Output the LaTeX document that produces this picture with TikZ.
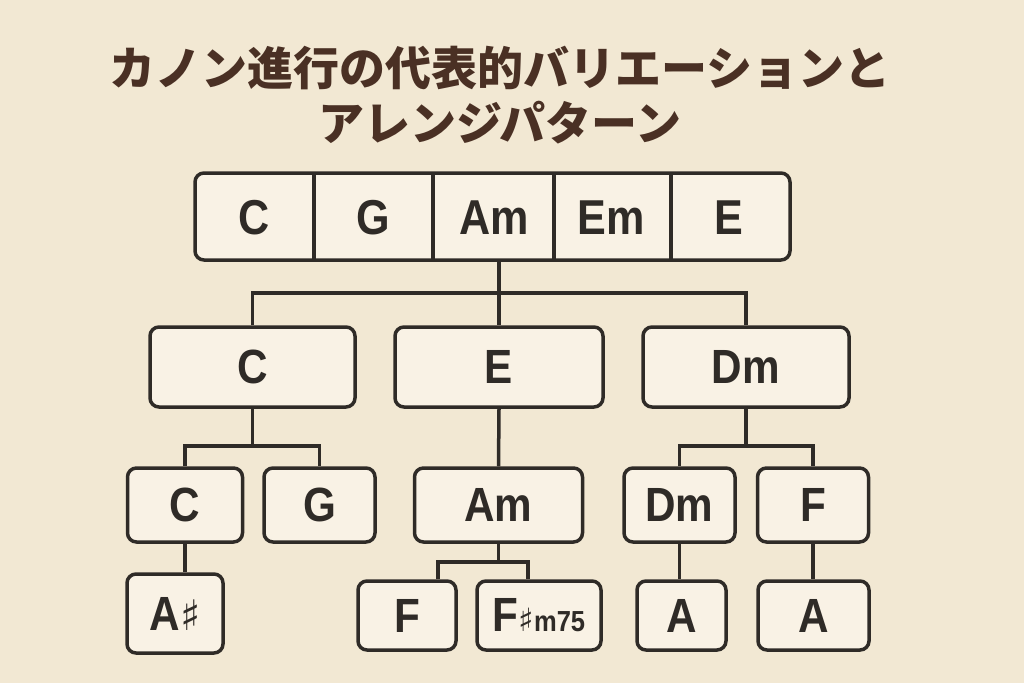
\documentclass[tikz,border=0pt]{standalone}
\usepackage{fontspec}
\usepackage{tikz}
\newfontfamily\cjk{Noto Sans CJK JP}
\newfontfamily\chordfont{Liberation Sans}[FakeStretch=0.88]
\newfontfamily\sharpfont{DejaVu Sans}
\definecolor{bgc}{HTML}{F2E8D3}
\definecolor{boxc}{HTML}{F9F2E5}
\definecolor{linec}{HTML}{2F2B27}
\definecolor{titlec}{HTML}{4A3024}
\tikzset{
  chordbox/.style={draw=linec,fill=boxc,line width=3.5pt,rounded corners=9pt,
    inner sep=0pt,text=linec,font=\chordfont\bfseries\fontsize{48}{48}\selectfont},
  cell/.style={inner sep=0pt,minimum width=119pt,minimum height=87pt,text=linec,
    font=\chordfont\bfseries\fontsize{49}{49}\selectfont},
  link/.style={draw=linec,line width=3.5pt}
}
\newcommand{\bigsharp}{{\sharpfont\fontsize{42}{42}\selectfont\char"266F}}
\newcommand{\lowsharp}{{\sharpfont\fontsize{32}{32}\selectfont\char"266F}}
\begin{document}
\begin{tikzpicture}[x=1pt,y=-1pt]
        \fill[bgc] (0,0) rectangle (1024,683);
        \useasboundingbox (0,0) rectangle (1024,683);

        % Title
        \node[text=titlec,align=center,font=\cjk\bfseries\fontsize{46}{55}\selectfont] (title) at (500,95)
          {カノン進行の代表的バリエーションと\\アレンジパターン};

        % Top row of chords
        \node[chordbox,minimum width=595pt,minimum height=87pt] (row) at (492.5,216.5) {};
        \node[cell] (c1) at (254.5,218) {C};
        \node[cell] (c2) at (373.5,218) {G};
        \node[cell] (c3) at (494.5,218) {Am};
        \node[cell] (c4) at (611.5,218) {Em};
        \node[cell] (c5) at (728.5,218) {E};
        \foreach \i in {1,2,3,4}
          \draw[link] (c\i.north east) -- (c\i.south east);

        % Second level
        \node[chordbox,minimum width=205pt,minimum height=80pt] (lC) at (252.5,367) {C};
        \node[chordbox,minimum width=208pt,minimum height=80pt] (lE) at (499,367) {E};
        \node[chordbox,minimum width=206pt,minimum height=80pt] (lDm) at (746,367) {Dm};

        % Third level
        \node[chordbox,minimum width=115pt,minimum height=74pt] (mC) at (185,505) {C};
        \node[chordbox,minimum width=111pt,minimum height=74pt] (mG) at (319.5,505) {G};
        \node[chordbox,minimum width=168pt,minimum height=74pt] (mAm) at (498.5,505) {Am};
        \node[chordbox,minimum width=111pt,minimum height=74pt] (mDm) at (679.5,505) {Dm};
        \node[chordbox,minimum width=111pt,minimum height=74pt] (mF) at (813,505) {F};

        % Fourth level
        \node[chordbox,minimum width=96pt,minimum height=79pt] (bAs) at (175,613.5) {A\bigsharp};
        \node[chordbox,minimum width=98pt,minimum height=69pt] (bF) at (407,615.5) {F};
        \node[chordbox,minimum width=124pt,minimum height=69pt] (bFs) at (539,615.5)
          {F{\lowsharp\fontsize{29}{29}\selectfont m75}};
        \node[chordbox,minimum width=89pt,minimum height=69pt] (bA1) at (681.5,615.5) {A};
        \node[chordbox,minimum width=111pt,minimum height=69pt] (bA2) at (813.5,615.5) {A};

        % Draw links from the top row
        \coordinate (j1) at (499,293);
        \draw[link] (row.south -| j1) -- (j1);
        \draw[link] (lC.north) |- (j1) -| (lDm.north);
        \draw[link] (j1) -- (lE.north);

        % Draw links below the second level
        \draw[link] (lC.south) -- ++(0,37) coordinate (j2);
        \draw[link] (mC.north) |- (j2) -| (mG.north);
        \draw[link] (lE.south) -- (mAm.north);
        \draw[link] (lDm.south) -- ++(0,37) coordinate (j3);
        \draw[link] (mDm.north) |- (j3) -| (mF.north);

        % Draw links below the third level
        \draw[link] (mC.south) -- (mC.south |- bAs.north);
        \draw[link] (mAm.south) -- ++(0,18) coordinate (j4);
        \draw[link] ([xshift=31pt]bF.north) |- (j4) -| ([xshift=-11pt]bFs.north);
        \draw[link] (mDm.south) -- (mDm.south |- bA1.north);
        \draw[link] (mF.south) -- (mF.south |- bA2.north);
    \end{tikzpicture}
\end{document}
